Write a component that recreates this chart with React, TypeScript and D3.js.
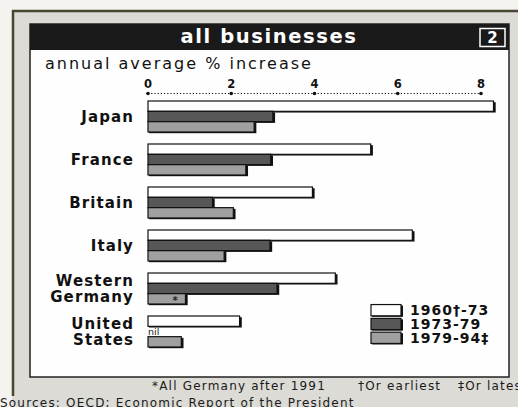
import React from "react";
import * as d3 from "d3";

const categories = ["Japan", "France", "Britain", "Italy", "Western Germany", "United States"];
const categoryLines = [["Japan"], ["France"], ["Britain"], ["Italy"], ["Western", "Germany"], ["United", "States"]];
const series = ["1960†-73", "1973-79", "1979-94‡"];
const v1960_73 = [8.3, 5.35, 3.95, 6.35, 4.5, 2.2];
const v1973_79: (number | null)[] = [3.0, 2.95, 1.55, 2.93, 3.1, null];
const v1979_94 = [2.55, 2.35, 2.05, 1.83, 0.9, 0.8];
const ticks = [0, 2, 4, 6, 8];
const colors = ["#ffffff", "#575757", "#a0a0a0"];
const footnotes = ["*All Germany after 1991", "†Or earliest", "‡Or lates"];

const FONT = "'DejaVu Sans', Verdana, sans-serif";

export default function App() {
  const W = 518, H = 407;
  const x = d3.scaleLinear().domain([0, 8]).range([148, 481]);
  const y = d3.scaleBand<string>().domain(categories).range([101, 347]).paddingInner(12 / 43).paddingOuter(0);
  const sub = d3.scaleBand<string>().domain(series).range([0, y.bandwidth()]).padding(0);
  const values = [v1960_73, v1973_79, v1979_94];

  const bars: { key: string; x0: number; x1: number; y0: number; h: number; fill: string }[] = [];
  categories.forEach((c, ci) => {
    series.forEach((s, si) => {
      const v = values[si][ci];
      if (v == null) return;
      bars.push({ key: c + s, x0: x(0), x1: x(v), y0: (y(c) as number) + (sub(s) as number), h: sub.bandwidth(), fill: colors[si] });
    });
  });

  const legendY = d3.scaleBand<string>().domain(series).range([304, 346]).padding(0.04);
  const footX = [152, 358, 458];

  return (
    <svg width={W} height={H} style={{ position: "absolute", left: 0, top: 0, display: "block" }}>
      <rect x={0} y={0} width={W} height={H} fill="#f4f3ef" />
      <rect x={12} y={10} width={W - 12} height={H - 10} fill="#dcdbd5" />
      <line x1={12} y1={11} x2={W} y2={11} stroke="#4a4632" strokeWidth={2.5} />
      <line x1={13} y1={10} x2={13} y2={396} stroke="#4a4632" strokeWidth={2.5} />
      {/* inner panel */}
      <rect x={30} y={24} width={479} height={353} fill="#fefefe" stroke="#222" strokeWidth={1.5} />
      <rect x={30} y={24} width={479} height={26} fill="#1a1a1a" />
      <text x={269} y={43} textAnchor="middle" fill="#fff" fontFamily={FONT} fontWeight={700} fontSize={19.5} letterSpacing={1.6}>all businesses</text>
      <rect x={480} y={28.5} width={25} height={18} fill="#1a1a1a" stroke="#fff" strokeWidth={1.5} />
      <text x={492.5} y={43} textAnchor="middle" fill="#fff" fontFamily={FONT} fontWeight={700} fontSize={15}>2</text>
      <text x={45} y={69} fill="#111" fontFamily={FONT} fontSize={16} letterSpacing={2}>annual average % increase</text>
      {/* axis */}
      <line x1={x(0)} x2={x(8)} y1={93.5} y2={93.5} stroke="#111" strokeWidth={1.2} strokeDasharray="1.2 2" />
      {ticks.map((t) => (
        <g key={t}>
          <circle cx={x(t)} cy={93.5} r={1.8} fill="#111" />
          <text x={x(t)} y={88} textAnchor="middle" fill="#111" fontFamily={FONT} fontWeight={700} fontSize={11.5}>{t}</text>
        </g>
      ))}
      {/* bar shadows */}
      {bars.map((b) => (
        <rect key={"s" + b.key} x={b.x0 + 1} y={b.y0 + 1.2} width={b.x1 - b.x0 + 1.2} height={b.h} fill="#111" />
      ))}
      {bars.map((b) => (
        <rect key={b.key} x={b.x0} y={b.y0} width={b.x1 - b.x0} height={b.h} fill={b.fill} stroke="#111" strokeWidth={1.2} />
      ))}
      {/* annotations */}
      <text x={x(0.65)} y={(y("Western Germany") as number) + (sub("1979-94‡") as number) + 10} textAnchor="middle" fill="#222" fontFamily={FONT} fontWeight={700} fontSize={10}>*</text>
      <text x={x(0)} y={(y("United States") as number) + (sub("1973-79") as number) + 8.5} fill="#222" fontFamily={FONT} fontSize={9.5}>nil</text>
      {/* category labels */}
      {categoryLines.map((lines, i) => {
        const cy = (y(categories[i]) as number) + y.bandwidth() / 2;
        return lines.map((l, j) => (
          <text key={categories[i] + j} x={134} y={cy + 5.3 + (j - (lines.length - 1) / 2) * 15.5} textAnchor="end" fill="#111" fontFamily={FONT} fontWeight={700} fontSize={15} letterSpacing={1.1}>{l}</text>
        ));
      })}
      {/* legend */}
      {series.map((s, i) => (
        <g key={s}>
          <rect x={372} y={(legendY(s) as number) + 1} width={31} height={legendY.bandwidth() - 2} fill="#111" />
          <rect x={371} y={legendY(s) as number} width={30} height={legendY.bandwidth() - 2} fill={colors[i]} stroke="#111" strokeWidth={1.2} />
          <text x={410} y={(legendY(s) as number) + 10.5} fill="#111" fontFamily={FONT} fontWeight={700} fontSize={14} letterSpacing={1}>{s}</text>
        </g>
      ))}
      {/* footer */}
      {footnotes.map((f, i) => (
        <text key={f} x={footX[i]} y={390} fill="#1a1a1a" fontFamily={FONT} fontSize={12} letterSpacing={1.2}>{f}</text>
      ))}
      <text x={0} y={407} fill="#1a1a1a" fontFamily={FONT} fontSize={12} letterSpacing={1.2}>Sources: OECD; Economic Report of the President</text>
    </svg>
  );
}
